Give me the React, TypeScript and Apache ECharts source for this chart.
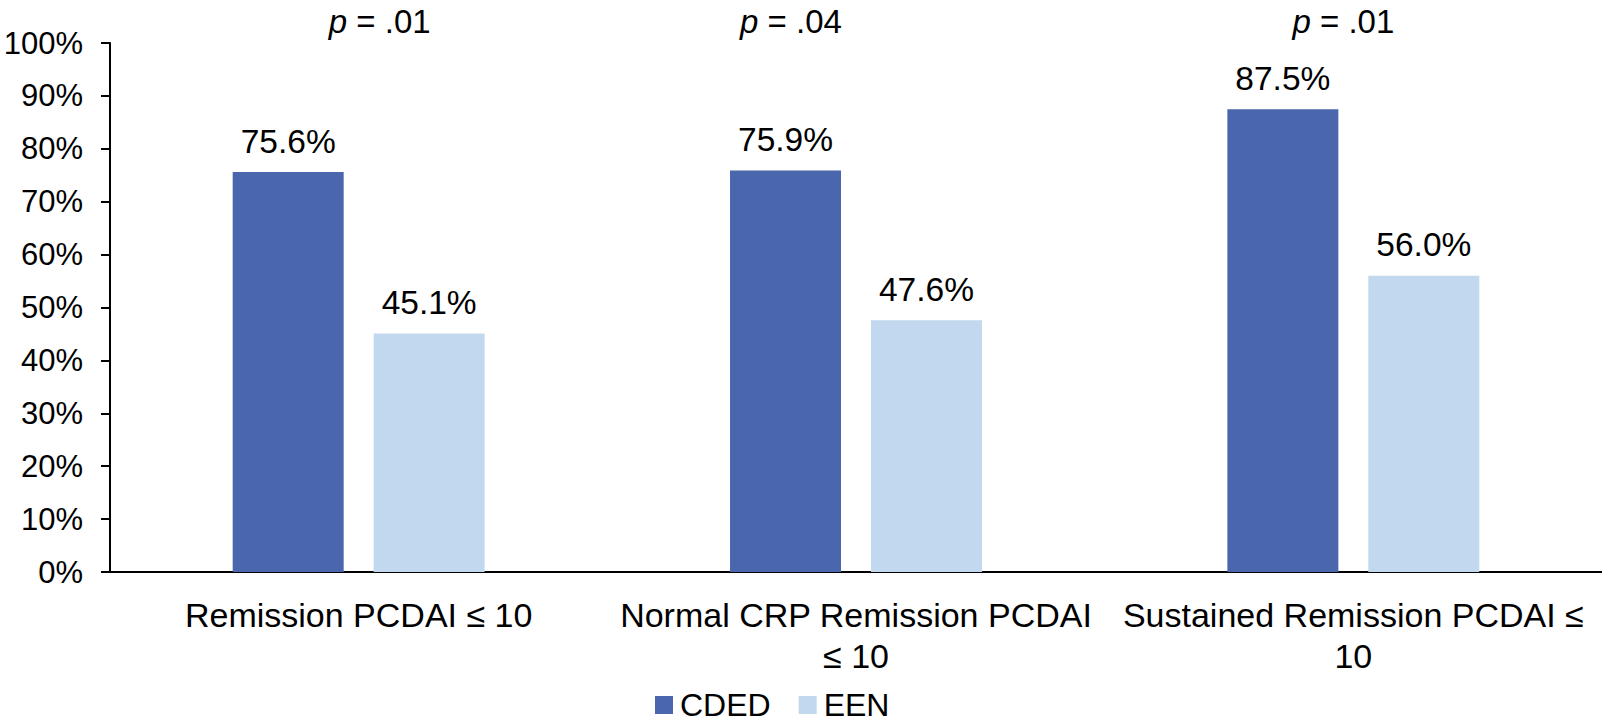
import React, { useEffect, useRef } from "react";
import * as echarts from "echarts";

// Outcome categories (line breaks as they wrap under the axis)
const categories = [
  "Remission PCDAI ≤ 10",
  "Normal CRP Remission PCDAI\n≤ 10",
  "Sustained Remission PCDAI ≤\n10",
];
const cdedValues = [75.6, 75.9, 87.5];
const eenValues = [45.1, 47.6, 56.0];
// p-values printed above each group, with a horizontal nudge per group
const pValues = [".01", ".04", ".01"];
const pOffsets = [21, -65, -10];

const FONT = "'Liberation Sans', Arial, Helvetica, sans-serif";
const CDED_COLOR = "#4a66ac";
const EEN_COLOR = "#c1d8ee";

export default function App() {
  const ref = useRef<HTMLDivElement>(null);

  useEffect(() => {
    if (!ref.current) return;
    const chart = echarts.init(ref.current, undefined, { renderer: "svg" });

    const valueLabel = {
      show: true,
      position: "top" as const,
      distance: 14,
      color: "#000",
      fontFamily: FONT,
      fontSize: 33.5,
      formatter: (p: any) => `${Number(p.value).toFixed(1)}%`,
    };

    chart.setOption({
      animation: false,
      backgroundColor: "#fff",
      textStyle: { fontFamily: FONT },
      grid: { left: 110, top: 43, width: 1495, bottom: 151, containLabel: false },
      legend: {
        left: 650,
        top: 684,
        itemWidth: 18,
        itemHeight: 18,
        itemGap: 28,
        icon: "rect",
        textStyle: { fontFamily: FONT, fontSize: 32, color: "#000", padding: [0, 0, 0, 2] },
        data: ["CDED", "EEN"],
      },
      xAxis: {
        type: "category",
        data: categories,
        axisLine: { show: true, lineStyle: { color: "#000", width: 2 } },
        axisTick: { show: false },
        axisLabel: {
          interval: 0,
          margin: 22,
          color: "#000",
          fontFamily: FONT,
          fontSize: 34,
          lineHeight: 41,
        },
      },
      yAxis: {
        type: "value",
        min: 0,
        max: 100,
        interval: 10,
        axisLine: { show: true, lineStyle: { color: "#000", width: 2 } },
        axisTick: { show: true, inside: false, length: 9, lineStyle: { color: "#000", width: 2 } },
        splitLine: { show: false },
        axisLabel: {
          margin: 27,
          color: "#000",
          fontFamily: FONT,
          fontSize: 31,
          formatter: "{value}%",
        },
      },
      series: [
        {
          name: "CDED",
          type: "bar",
          data: cdedValues,
          barWidth: 111,
          barGap: "27%",
          itemStyle: { color: CDED_COLOR },
          label: valueLabel,
        },
        {
          name: "EEN",
          type: "bar",
          data: eenValues,
          barWidth: 111,
          barGap: "27%",
          itemStyle: { color: EEN_COLOR },
          label: valueLabel,
        },
      ],
    });

    // p-value annotations above each group, placed from the category axis
    const pTexts = categories.map((c, i) => {
      const cx = chart.convertToPixel({ xAxisIndex: 0 }, c) as number;
      return {
        type: "text",
        x: cx + pOffsets[i],
        y: 21,
        style: {
          text: `{i|p} = ${pValues[i]}`,
          rich: { i: { fontStyle: "italic", fontFamily: FONT, fontSize: 33, fill: "#000" } },
          fontFamily: FONT,
          fontSize: 33,
          fill: "#000",
          align: "center",
          verticalAlign: "middle",
          textAlign: "center",
          textVerticalAlign: "middle",
        },
      };
    });
    chart.setOption({ graphic: pTexts });

    return () => chart.dispose();
  }, []);

  return (
    <div
      ref={ref}
      style={{ position: "absolute", left: 0, top: 0, width: 1602, height: 723 }}
    />
  );
}
